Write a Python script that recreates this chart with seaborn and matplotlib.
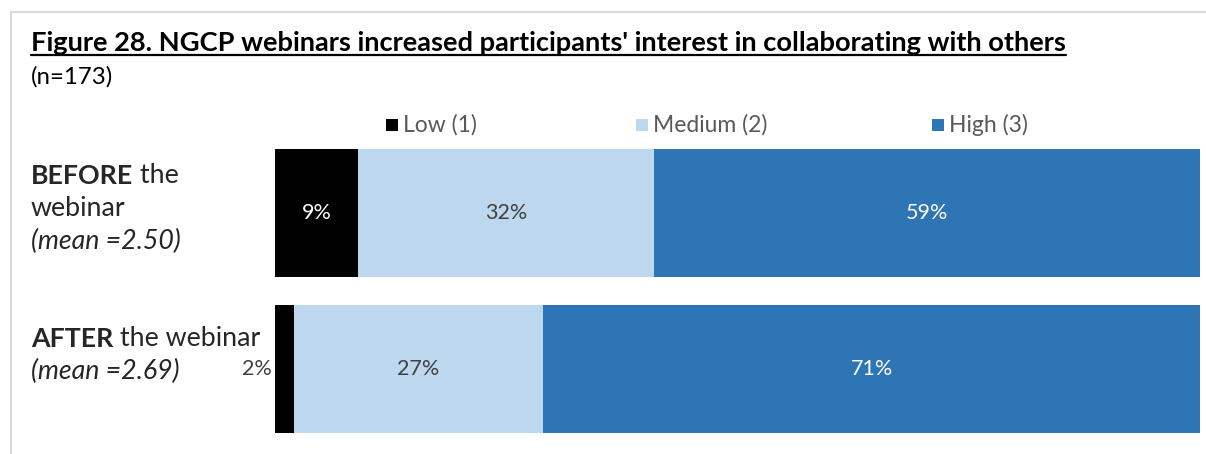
import pandas as pd
import numpy as np
import matplotlib.pyplot as plt
import seaborn as sns
from matplotlib.lines import Line2D
from matplotlib.patches import Rectangle

# данные
periods = ['BEFORE', 'AFTER']
levels = ['Low (1)', 'Medium (2)', 'High (3)']
low = [9, 2]
medium = [32, 27]
high = [59, 71]
means = ['2.50', '2.69']
colors = ['#000000', '#BDD7EE', '#2E75B6']
text_colors = ['white', '#404040', 'white']

df = pd.DataFrame({'period': periods, 'Low (1)': low, 'Medium (2)': medium, 'High (3)': high})
cum = df[levels].cumsum(axis=1)

sns.set_theme(style='white')
plt.rcParams['font.family'] = ['Lato', 'DejaVu Sans']

W, H = 1206, 454
fig = plt.figure(figsize=(W / 100, H / 100), dpi=100)
ax = fig.add_axes([275 / W, 21 / H, 925 / W, 284 / H])

def fx(x):
    return x / W

def fy(y):
    return 1 - y / H

# рисуем накопленные суммы в обратном порядке, чтобы получить стек
for lev, col in reversed(list(zip(levels, colors))):
    sns.barplot(x=cum[lev], y=df['period'], orient='h', color=col, saturation=1,
                width=0.826, linewidth=0, ax=ax)

ax.set_xlim(0, 100)
ax.set_ylim(1.413, -0.413)
ax.set_xticks([])
ax.set_yticks([])
ax.set_xlabel('')
ax.set_ylabel('')
for s in ax.spines.values():
    s.set_visible(False)

# подписи значений
for i in range(len(periods)):
    left = 0
    for lev, tc in zip(levels, text_colors):
        v = df.loc[i, lev]
        if v < 5:
            ax.text(left - 0.3, i, f'{v}%', ha='right', va='center', fontsize=15.5, color='#404040')
        else:
            ax.text(left + v / 2, i, f'{v}%', ha='center', va='center', fontsize=15.5, color=tc)
        left += v

# заголовок с подчёркиванием
title = fig.text(fx(31), fy(51), "Figure 28. NGCP webinars increased participants' interest in collaborating with others",
                 fontsize=19.6, fontweight='bold', color='black', va='baseline', ha='left')
fig.text(fx(31), fy(84), '(n=173)', fontsize=17.3, color='black', va='baseline', ha='left')

fig.canvas.draw()
bb = title.get_window_extent(fig.canvas.get_renderer())
fig.add_artist(Line2D([bb.x0 / W, bb.x1 / W], [fy(54.5), fy(54.5)], color='black', lw=1.6))

# легенда вручную
leg_x = [386, 636, 932]
for lx, lev, col in zip(leg_x, levels, colors):
    fig.add_artist(Rectangle((fx(lx), fy(131)), 12 / W, 12 / H, color=col, lw=0))
    fig.text(fx(lx + 17), fy(125), lev, fontsize=16.5, color='#595959', va='center', ha='left')

# подписи категорий
FS = 19.3

def label(x, y, bold, rest):
    t = fig.text(fx(x), fy(y), bold, fontsize=FS, fontweight='bold', va='baseline', ha='left')
    ax.annotate(rest, xy=(1, 0), xycoords=t, va='bottom', ha='left', fontsize=FS,
                annotation_clip=False)
    return t

label(31, 184, 'BEFORE', ' the')
fig.text(fx(31), fy(216), 'webinar', fontsize=FS, va='baseline', ha='left')
fig.text(fx(31), fy(249), '(mean =' + means[0] + ')', fontsize=FS, style='italic', va='baseline', ha='left')
label(31, 347, 'AFTER', ' the webinar')
fig.text(fx(31), fy(379), '(mean =' + means[1] + ')', fontsize=FS, style='italic', va='baseline', ha='left')

# рамка
fig.add_artist(Line2D([fx(11), 1], [fy(12), fy(12)], color='#D9D9D9', lw=1.5))
fig.add_artist(Line2D([fx(11), fx(11)], [fy(12), 0], color='#D9D9D9', lw=1.5))

plt.savefig('out.png', dpi=100)
